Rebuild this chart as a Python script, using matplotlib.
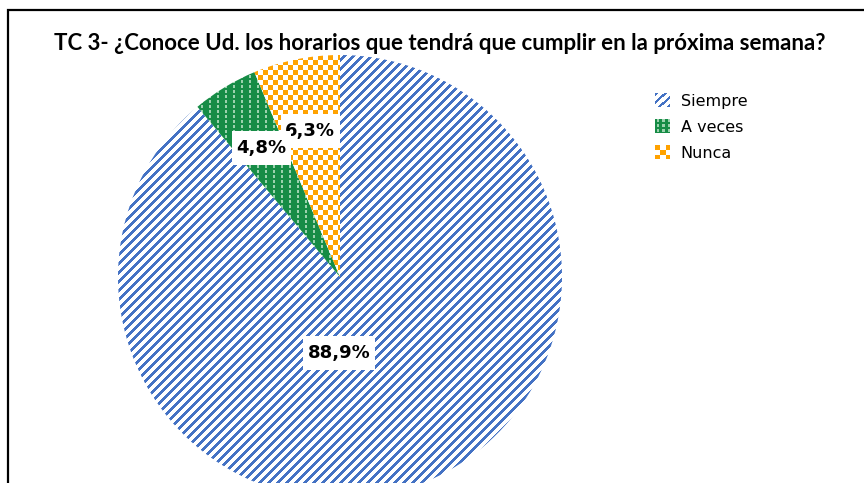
import numpy as np
import matplotlib
matplotlib.use("Agg")
import matplotlib.pyplot as plt
from matplotlib.path import Path
from matplotlib.patches import Rectangle
from matplotlib.legend_handler import HandlerBase
from matplotlib.image import BboxImage
from matplotlib.transforms import Bbox, TransformedBbox

title = "TC 3- ¿Conoce Ud. los horarios que tendrá que cumplir en la próxima semana?"
categories = ["Siempre", "A veces", "Nunca"]
values = [88.9, 4.8, 6.3]
pct_labels = ["88,9%", "4,8%", "6,3%"]
# label centres in pie units (radius = 1), as placed in the original
label_pos = [(-0.005, -0.342), (-0.354, 0.581), (-0.135, 0.658)]

BLUE = np.array([0x44, 0x72, 0xC4]) / 255
GREEN = np.array([0x16, 0x8C, 0x46]) / 255
DOT = np.array([0x9C, 0xD2, 0xAE]) / 255
ORANGE = np.array([0xFF, 0xA2, 0x00]) / 255


def stripes(n, period=9, width=4):
    i, j = np.mgrid[0:n, 0:n]
    img = np.ones((n, n, 3))
    img[(i + j) % period < width] = BLUE
    return img


def dots(n, col=8, row=5, offs=3):
    i, j = np.mgrid[0:n, 0:n]
    img = np.ones((n, n, 3)) * GREEN
    img[((j - offs) % col < 2) & (i % row < 3)] = DOT
    return img


def checker(n, size=5):
    i, j = np.mgrid[0:n, 0:n]
    img = np.ones((n, n, 3))
    img[(i // size + j // size) % 2 == 0] = ORANGE
    return img


class HandlerTexture(HandlerBase):
    def __init__(self, tex):
        super().__init__()
        self.tex = tex

    def create_artists(self, legend, orig_handle, xdescent, ydescent,
                       width, height, fontsize, trans):
        bb = TransformedBbox(Bbox.from_bounds(-xdescent, -ydescent, width, height), trans)
        img = BboxImage(bb, interpolation="nearest")
        img.set_data(self.tex)
        return [img]


def label_box(x0, y0, width, height, mutation_size):
    px = 0.25 * mutation_size
    py = 0.42 * mutation_size
    verts = [(x0 - px, y0 - py), (x0 + width + px, y0 - py),
             (x0 + width + px, y0 + height + py), (x0 - px, y0 + height + py),
             (x0 - px, y0 - py)]
    return Path(verts, closed=True)


fig = plt.figure(figsize=(8.64, 4.83), dpi=100)
ax = fig.add_axes([118 / 864, -16 / 483, 444 / 864, 444 / 483])

wedges, _ = ax.pie(values, startangle=90, counterclock=False, radius=1,
                   colors=["none"] * 3, wedgeprops=dict(linewidth=0))

n = 444
textures = [stripes(n), dots(n), checker(n)]
for w, tex in zip(wedges, textures):
    im = ax.imshow(tex, extent=(-1, 1, -1, 1), interpolation="nearest", zorder=1)
    im.set_clip_path(w)

ax.set_xlim(-1, 1)
ax.set_ylim(-1, 1)
ax.axis("off")

# Nunca label first so the A veces box overlaps it as in the original
for k in [0, 2, 1]:
    ax.text(label_pos[k][0], label_pos[k][1], pct_labels[k], ha="center", va="center",
            fontsize=13, fontweight="bold", family="DejaVu Sans", zorder=5 + (k == 1),
            bbox=dict(boxstyle=label_box, facecolor="white", edgecolor="none"))

key_tex = [stripes(14, 8, 3), dots(14, 5, 5, 2), checker(14, 5)]
hmap = {w: HandlerTexture(t) for w, t in zip(wedges, key_tex)}
fig.legend(wedges, categories, handler_map=hmap, loc="upper left",
           bbox_to_anchor=(655 / 864, 1 - 94 / 483), frameon=False,
           borderpad=0, borderaxespad=0, handlelength=0.9, handleheight=0.9,
           handletextpad=0.7, labelspacing=0.68,
           prop={"family": "DejaVu Sans", "size": 11.5})

fig.text(440 / 864, 1 - 50 / 483, title, ha="center", va="baseline",
         fontsize=16, fontweight="bold", family="Lato")

fig.add_artist(Rectangle((8 / 864, -0.1), 1.2, 1 - 10 / 483 + 0.1,
                         transform=fig.transFigure, fill=False,
                         edgecolor="black", linewidth=1.6, clip_on=False))

fig.savefig("out.png", dpi=100)
